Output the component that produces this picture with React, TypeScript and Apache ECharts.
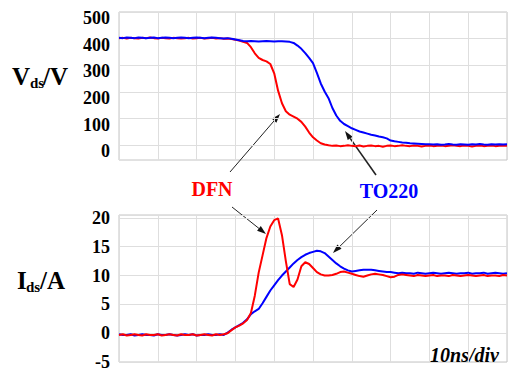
import React, { useEffect, useRef } from "react";
import * as echarts from "echarts";

// time axis: 0..100 ns, one sample per ns
const TIME_NS: number[] = Array.from({ length: 101 }, (_, i) => i);

const VDS_DFN: number[] = [
  402, 403, 401, 403, 402, 401, 403, 402, 404, 402, 401, 403, 402, 401, 403, 402, 401, 402, 403, 401,
  402, 403, 401, 402, 403, 401, 402, 400, 401, 399,
  396, 393, 388, 384, 368, 345, 328, 320, 315, 305, 270, 205, 158, 128, 115, 108, 100, 88, 70, 48,
  30, 18, 8, 3, 0,
  -2, -1, -3, -2, 0, -2, -3, -1, -4, -2, -1, -3, -2, -5, -2, -1, -3, -2, 0, -2, -3, -1, -2, -4, -2,
  -1, -3, -2, -1, -3, -2, 0, -2, -3, -1, -2, -4, -2, -1, -3, -2, -1, -3, -2, -1, -2,
];

const VDS_TO220: number[] = [
  403, 402, 404, 403, 402, 404, 403, 402, 403, 404, 402, 403, 404, 403, 402, 403, 404, 403, 402, 403,
  404, 403, 402, 403, 404, 403, 402, 401, 402, 400,
  397, 394, 391, 390, 391, 390, 389, 390, 391, 390, 389, 390, 390, 389, 388,
  384, 374, 362, 346, 328, 308, 272, 232, 202, 177, 140, 112, 92, 80, 72,
  64, 58, 52, 48, 44, 40, 37, 33, 30, 26, 18, 15, 13, 11, 10, 8, 7, 6, 5, 4, 4,
  3, 4, 2, 3, 5, 3, 2, 4, 3, 2, 4, 3, 5, 3, 2, 4, 3, 4, 3, 4,
];

const IDS_DFN: number[] = [
  -0.3, -0.2, -0.4, -0.3, -0.2, -0.3, -0.4, -0.2, -0.3, -0.3, -0.2, -0.4, -0.3, -0.2, -0.3, -0.4,
  -0.2, -0.3, -0.3, -0.2, -0.4, -0.3, -0.2, -0.3, -0.4, -0.2, -0.3, -0.2,
  0, 0.5, 1.0, 1.3, 1.7, 2.3, 3.5, 6.5, 10.5, 13.5, 16.5, 18.5, 19.6, 19.9, 17.0, 12.5, 8.5, 8.0,
  9.3, 11.6, 12.3, 12.0, 11.3, 10.6, 10.2, 10.0, 10.0, 10.1, 10.3, 10.6, 10.7, 10.5, 10.3, 10.1, 9.9,
  9.8, 10.0, 10.2, 10.3, 10.2, 10.1, 9.9, 9.7, 9.8, 10.1, 10.2, 10.1,
  10.0, 9.9, 10.1, 10.0, 9.9, 10.0, 10.1, 9.9, 10.0, 10.0, 9.9, 10.1, 10.0, 9.9, 10.0, 10.1, 10.0,
  9.9, 10.0, 10.1, 9.9, 10.0, 10.0, 9.9, 10.1, 10.0,
];

const IDS_TO220: number[] = [
  -0.2, -0.3, -0.3, -0.2, -0.4, -0.3, -0.2, -0.3, -0.3, -0.4, -0.2, -0.3, -0.3, -0.2, -0.3, -0.4,
  -0.3, -0.2, -0.3, -0.2, -0.4, -0.3, -0.3, -0.2, -0.3, -0.3, -0.2, -0.3,
  0.1, 0.6, 1.0, 1.4, 1.8, 2.4, 3.3, 3.8, 4.2, 5.2, 6.3, 7.4, 8.3, 9.2, 10.0, 10.7, 11.4, 12.1, 12.7,
  13.2, 13.6, 13.9, 14.1, 14.3, 14.2, 13.9, 13.3, 12.7, 12.1, 11.6, 11.2, 10.9, 10.7, 10.8, 10.9,
  11.0, 11.0, 11.0, 10.9, 10.8, 10.7, 10.6, 10.6, 10.5, 10.4, 10.5, 10.4,
  10.4, 10.3, 10.5, 10.4, 10.3, 10.4, 10.5, 10.4, 10.3, 10.4, 10.5, 10.4, 10.3, 10.4, 10.4, 10.5,
  10.3, 10.4, 10.4, 10.5, 10.3, 10.4, 10.5, 10.4, 10.3, 10.4,
];

const V_TICKS: number[] = [0, 100, 200, 300, 400, 500];
const SERIES_NAMES = ["DFN", "TO220"];

const FONT = "Times New Roman, Liberation Serif, serif";

function pairs(vals: number[]) {
  return TIME_NS.map((t, i) => [t, vals[i]]);
}

function arrow(x1: number, y1: number, x2: number, y2: number, w = 1, head = 9, half = 3) {
  const a = Math.atan2(y2 - y1, x2 - x1);
  const bx = x2 - head * Math.cos(a);
  const by = y2 - head * Math.sin(a);
  const px = Math.sin(a) * half;
  const py = -Math.cos(a) * half;
  return [
    {
      type: "line",
      shape: { x1, y1, x2: bx, y2: by },
      style: { stroke: "#222", lineWidth: w },
      silent: true,
    },
    {
      type: "polygon",
      shape: { points: [[x2, y2], [bx + px, by + py], [bx - px, by - py]] },
      style: { fill: "#111" },
      silent: true,
    },
  ];
}

function txt(text: string, x: number, y: number, size: number, color = "#000", align = "left", extra = "bold") {
  return {
    type: "text",
    x,
    y,
    silent: true,
    style: {
      text,
      fontFamily: FONT,
      fontWeight: "bold",
      fontStyle: extra.includes("italic") ? "italic" : "normal",
      fontSize: size,
      fill: color,
      align,
      verticalAlign: "middle",
    },
  };
}

export default function App() {
  const ref = useRef<HTMLDivElement>(null);
  useEffect(() => {
    if (!ref.current) return;
    const chart = echarts.init(ref.current, undefined, { renderer: "svg" });
    const gridStyle = { lineStyle: { color: "#dedede", width: 1 } };
    const yLabel = {
      fontFamily: FONT,
      fontWeight: "bold" as const,
      fontSize: 18,
      color: "#000",
      margin: 9,
    };
    const xAxisCommon = {
      type: "value" as const,
      min: 0,
      max: 100,
      interval: 10,
      axisLine: { show: false },
      axisTick: { show: false },
      axisLabel: { show: false },
      splitLine: { show: true, ...gridStyle },
    };
    chart.setOption({
      animation: false,
      backgroundColor: "#fff",
      grid: [
        { left: 119, top: 12, width: 388, height: 148, show: true, borderColor: "#c4c4c4", borderWidth: 1 },
        { left: 119, top: 215, width: 388, height: 148, show: true, borderColor: "#c4c4c4", borderWidth: 1 },
      ],
      xAxis: [
        { gridIndex: 0, ...xAxisCommon },
        { gridIndex: 1, ...xAxisCommon },
      ],
      yAxis: [
        {
          gridIndex: 0,
          type: "value",
          min: -55,
          max: 500,
          axisLine: { show: false },
          axisTick: { show: false, customValues: V_TICKS },
          axisLabel: { ...yLabel, customValues: V_TICKS, verticalAlign: "top", lineHeight: 12 },
          splitLine: { show: true, ...gridStyle },
        },
        {
          gridIndex: 1,
          type: "value",
          min: -5,
          max: 20.5,
          interval: 5,
          axisLine: { show: false },
          axisTick: { show: false },
          axisLabel: { ...yLabel },
          splitLine: { show: true, ...gridStyle },
        },
      ],
      series: [
        {
          name: SERIES_NAMES[0],
          type: "line",
          xAxisIndex: 0,
          yAxisIndex: 0,
          data: pairs(VDS_DFN),
          showSymbol: false,
          lineStyle: { color: "#ff0000", width: 2 },
        },
        {
          name: SERIES_NAMES[1],
          type: "line",
          xAxisIndex: 0,
          yAxisIndex: 0,
          data: pairs(VDS_TO220),
          showSymbol: false,
          lineStyle: { color: "#0000ff", width: 2 },
        },
        {
          name: SERIES_NAMES[1],
          type: "line",
          xAxisIndex: 1,
          yAxisIndex: 1,
          data: pairs(IDS_TO220),
          showSymbol: false,
          lineStyle: { color: "#0000ff", width: 2 },
        },
        {
          name: SERIES_NAMES[0],
          type: "line",
          xAxisIndex: 1,
          yAxisIndex: 1,
          data: pairs(IDS_DFN),
          showSymbol: false,
          lineStyle: { color: "#ff0000", width: 2 },
        },
      ],
      graphic: [
        // V_ds/V
        txt("V", 12, 76, 25),
        txt("ds", 30, 83, 15),
        txt("/V", 43, 76, 25),
        // I_ds/A
        txt("I", 17, 280, 25),
        txt("ds", 26, 287, 15),
        txt("/A", 40, 280, 25),
        // series labels
        txt(SERIES_NAMES[0], 212, 189, 20, "#ff0000", "center"),
        txt(SERIES_NAMES[1], 389, 191, 20, "#0000ff", "center"),
        txt("10ns/div", 499, 355, 20, "#000", "right", "bold italic"),
        ...arrow(230, 172, 280, 114),
        ...arrow(232, 207, 266, 234),
        ...arrow(376, 175, 345, 131, 1.6),
        ...arrow(377, 210, 333, 253),
      ],
    });
    return () => chart.dispose();
  }, []);
  return (
    <div
      ref={ref}
      style={{ position: "fixed", left: 0, top: 0, width: 508, height: 371, background: "#fff" }}
    />
  );
}
